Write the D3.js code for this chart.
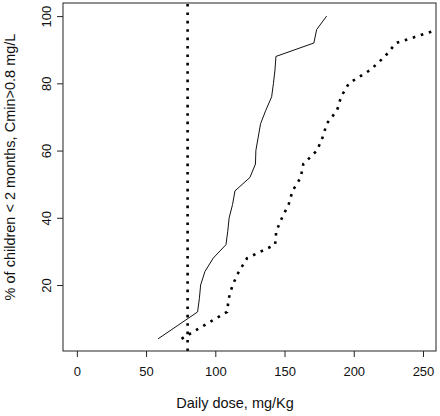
<!DOCTYPE html>
<html>
<head>
<meta charset="utf-8">
<script src="https://cdn.jsdelivr.net/npm/d3@7"></script>
<style>
  html, body { margin: 0; padding: 0; background: #fff; }
  svg { display: block; }
  text { font-family: "Liberation Sans", Arial, sans-serif; fill: #111; }
</style>
</head>
<body>
<svg id="chart" width="440" height="416"></svg>
<script>
// Percent of children (steps of 4%)
const percentLevels = [4, 8, 12, 16, 20, 24, 28, 32, 36, 40, 44, 48, 52, 56, 60, 64, 68, 72, 76, 80, 84, 88, 92, 96, 100];
// Solid curve: daily dose (mg/Kg) at each percent level
const solidDose = [58.7, 73, 87.2, 88.5, 89.4, 92.5, 98.5, 107.7, 109, 110, 112.5, 114.2, 125, 129, 129.3, 131, 132.7, 136.5, 140.7, 142, 143.1, 143.8, 171.2, 173.2, 180.4];
// Dotted curve: daily dose (mg/Kg) at each percent level
const dottedDose = [75.6, 92, 108.5, 109.7, 112.5, 117, 123, 143.2, 144, 148.2, 153, 155.8, 161.7, 163.6, 173.4, 177.6, 180.5, 188, 190.8, 196.5, 212, 222.5, 230.5, 261, 285];
// Reference dose (vertical dotted line)
const refDose = [80];
const xTicks = [0, 50, 100, 150, 200, 250];
const yTicks = [20, 40, 60, 80, 100];
const xTitle = "Daily dose, mg/Kg";
const yTitle = "% of children < 2 months, Cmin>0.8 mg/L";

const svg = d3.select("#chart");
const L = 63, R = 436, T = 3, B = 351;
const x = d3.scaleLinear().domain([-10, 259.4]).range([L, R]);
const y = d3.scaleLinear().domain([0.37, 103.9]).range([B, T]);

svg.append("defs").append("clipPath").attr("id", "clip")
  .append("rect").attr("x", L).attr("y", T).attr("width", R - L).attr("height", B - T);

const plot = svg.append("g").attr("clip-path", "url(#clip)");

// vertical reference line
plot.selectAll("line.ref").data(refDose).enter().append("line")
  .attr("class", "ref")
  .attr("x1", d => x(d)).attr("x2", d => x(d))
  .attr("y1", y(y.domain()[0])).attr("y2", y(y.domain()[1]))
  .attr("stroke", "#000").attr("stroke-width", 2.6)
  .attr("stroke-dasharray", "2.6,5.8");

const solidData = percentLevels.map((p, i) => [solidDose[i], p]);
const dottedData = percentLevels.map((p, i) => [dottedDose[i], p]);
const line = d3.line().x(d => x(d[0])).y(d => y(d[1]));

plot.append("path").datum(solidData)
  .attr("d", line).attr("fill", "none")
  .attr("stroke", "#111").attr("stroke-width", 1);

plot.append("path").datum(dottedData)
  .attr("d", line).attr("fill", "none")
  .attr("stroke", "#000").attr("stroke-width", 2.6)
  .attr("stroke-dasharray", "2.6,5.8");

// box
svg.append("rect").attr("x", L).attr("y", T).attr("width", R - L).attr("height", B - T)
  .attr("fill", "none").attr("stroke", "#222").attr("stroke-width", 1);

// x axis
const xAxis = d3.axisBottom(x).tickValues(xTicks).tickSize(6).tickPadding(10).tickFormat(d3.format("d"));
const gx = svg.append("g").attr("transform", `translate(0,${B})`).call(xAxis);
gx.select(".domain").remove();
gx.selectAll(".tick line").attr("stroke", "#222");
gx.selectAll(".tick text").attr("font-size", 13).attr("font-family", "Liberation Sans, Arial, sans-serif").attr("fill", "#111");

// y axis
const yAxis = d3.axisLeft(y).tickValues(yTicks).tickSize(6).tickFormat(d3.format("d"));
const gy = svg.append("g").attr("transform", `translate(${L},0)`).call(yAxis);
gy.select(".domain").remove();
gy.selectAll(".tick line").attr("stroke", "#222");
gy.selectAll(".tick text")
  .attr("font-size", 13).attr("font-family", "Liberation Sans, Arial, sans-serif").attr("fill", "#111")
  .attr("text-anchor", "middle")
  .attr("x", 0).attr("dy", 0)
  .attr("transform", "translate(-17,0) rotate(-90)")
  .attr("dominant-baseline", "central");

// titles
svg.append("text").attr("x", 235).attr("y", 408)
  .attr("text-anchor", "middle").attr("font-size", 14.5).text(xTitle);
svg.append("text")
  .attr("transform", "translate(10,167) rotate(-90)")
  .attr("text-anchor", "middle").attr("dominant-baseline", "central")
  .attr("font-size", 14.5).text(yTitle);
</script>
</body>
</html>
